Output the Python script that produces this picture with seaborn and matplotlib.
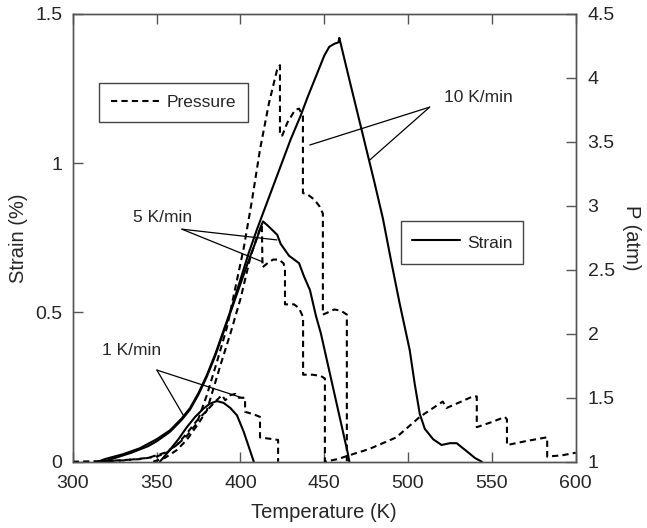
import matplotlib
matplotlib.use("Agg")
import pandas as pd
import seaborn as sns
import matplotlib.pyplot as plt

sns.set_style("ticks")
plt.rcParams['font.family'] = ['Liberation Sans', 'DejaVu Sans']
plt.rcParams['font.size'] = 14

# strain curves (%), one per heating rate
t_s1 = [352, 358, 363, 368, 373, 378, 382, 386, 390, 394, 398, 402, 405, 408]
s_1 = [0.0, 0.04, 0.075, 0.115, 0.15, 0.178, 0.195, 0.203, 0.197, 0.18, 0.155, 0.10, 0.05, 0.0]

t_s5 = [318, 325, 335, 345, 350, 358, 365, 370, 375, 380, 385, 390, 395, 400,
        405, 410, 412, 413.5, 416.5, 422, 424, 429, 435, 438, 441.5, 445, 448,
        452, 456, 460, 464, 465]
s_5 = [0.0, 0.012, 0.03, 0.052, 0.068, 0.10, 0.14, 0.175, 0.225, 0.285, 0.355,
       0.435, 0.515, 0.595, 0.675, 0.75, 0.785, 0.805, 0.79, 0.76, 0.73, 0.69,
       0.665, 0.62, 0.575, 0.49, 0.43, 0.33, 0.23, 0.13, 0.03, 0.0]

t_s10 = [315, 320, 330, 340, 350, 358, 365, 370, 375, 380, 385, 390, 395, 400,
         405, 410, 420, 430, 436, 440, 445, 450, 453, 456, 458.5, 459, 465, 470,
         475, 480, 485, 490, 495, 501, 504, 507, 510, 515, 520, 525, 529, 535,
         540, 544]
s_10 = [0.0, 0.01, 0.025, 0.045, 0.075, 0.105, 0.145, 0.18, 0.23, 0.29, 0.36,
        0.44, 0.52, 0.61, 0.70, 0.78, 0.93, 1.08, 1.16, 1.22, 1.29, 1.36, 1.39,
        1.40, 1.405, 1.42, 1.28, 1.165, 1.05, 0.935, 0.815, 0.67, 0.53, 0.374,
        0.26, 0.16, 0.11, 0.075, 0.056, 0.062, 0.062, 0.035, 0.012, 0.0]

# pressure curves (atm), stepwise venting
t_p1 = [300, 320, 340, 350, 356, 362, 368, 374, 380, 385, 389, 391, 394, 397,
        399, 402.8, 402.8, 408, 411.7, 411.7, 422.5, 422.5]
p_1 = [1.0, 1.005, 1.02, 1.04, 1.07, 1.13, 1.22, 1.32, 1.40, 1.47, 1.52, 1.48,
       1.52, 1.53, 1.50, 1.50, 1.39, 1.37, 1.35, 1.19, 1.17, 1.0]

t_p5 = [348, 355, 362, 368, 374, 380, 388, 394, 400, 406, 410, 412.8, 413.2,
        416, 419.5, 423, 425.8, 426.6, 426.6, 432, 435, 437.4, 437.4, 443, 448,
        450.4, 450.4, 458, 465, 477, 493, 507, 520.7, 523, 530, 538.6, 541, 541,
        550, 557.8, 559, 559, 570, 582.6, 583, 583, 592, 600]
p_5 = [1.0, 1.03, 1.09, 1.17, 1.28, 1.40, 1.75, 2.0, 2.27, 2.6, 2.76, 2.85,
       2.52, 2.55, 2.58, 2.58, 2.55, 2.5, 2.23, 2.23, 2.2, 2.13, 1.68, 1.68,
       1.67, 1.65, 1.0, 1.02, 1.05, 1.10, 1.19, 1.35, 1.47, 1.42, 1.46, 1.51,
       1.51, 1.27, 1.31, 1.35, 1.33, 1.13, 1.16, 1.19, 1.19, 1.04, 1.05, 1.07]

t_p10 = [315, 330, 345, 355, 362, 368, 374, 380, 386, 392, 397, 402, 407,
         411.7, 417, 421.8, 423.6, 423.6, 425, 428, 432.6, 435, 437.3, 437.3,
         440, 444, 447, 449.2, 449.2, 451, 456, 460, 463.5, 463.5]
p_10 = [1.0, 1.01, 1.03, 1.07, 1.13, 1.2, 1.3, 1.52, 1.78, 2.05, 2.36, 2.67,
        3.05, 3.44, 3.8, 4.06, 4.1, 3.55, 3.55, 3.65, 3.75, 3.76, 3.7, 3.1,
        3.09, 3.05, 3.0, 2.94, 2.15, 2.16, 2.19, 2.18, 2.15, 1.0]

x_ticks = [300, 350, 400, 450, 500, 550, 600]
strain_ticks = [0, 0.5, 1, 1.5]
strain_labels = ['0', '0.5', '1', '1.5']
p_ticks = [1, 1.5, 2, 2.5, 3, 3.5, 4, 4.5]
p_labels = ['1', '1.5', '2', '2.5', '3', '3.5', '4', '4.5']

spine_col = '#555555'

fig = plt.figure(figsize=(6.47, 5.28), dpi=100)
ax = fig.add_axes([0.1124, 0.1256, 0.7774, 0.8479])
ax2 = ax.twinx()

for t, s in [(t_s1, s_1), (t_s5, s_5), (t_s10, s_10)]:
    sns.lineplot(x=t, y=s, ax=ax, color='black', lw=1.5, sort=False,
                 estimator=None)
for t, p in [(t_p1, p_1), (t_p5, p_5), (t_p10, p_10)]:
    sns.lineplot(x=t, y=p, ax=ax2, color='black', lw=1.5, sort=False,
                 estimator=None, dashes=False, linestyle=(0, (3, 2)))

ax.set_xlim(300, 600)
ax.set_ylim(0, 1.5)
ax2.set_ylim(1, 4.5)
ax.set_xticks(x_ticks)
ax.set_xticklabels([str(v) for v in x_ticks])
ax.set_yticks(strain_ticks)
ax.set_yticklabels(strain_labels)
ax2.set_yticks(p_ticks)
ax2.set_yticklabels(p_labels)

ax.set_xlabel('Temperature (K)', fontsize=14.5, labelpad=8)
ax.set_ylabel('Strain (%)', fontsize=14.5, labelpad=5)
ax2.set_ylabel('P (atm)', fontsize=14.5, rotation=270, labelpad=19)

ax.tick_params(axis='x', direction='in', top=True, length=7, width=1,
               color=spine_col, pad=9.5)
ax.tick_params(axis='y', direction='in', right=False, length=7, width=1,
               color=spine_col, pad=7.5)
ax2.tick_params(axis='y', direction='in', length=7, width=1,
                color=spine_col, pad=8.5)
for a in (ax, ax2):
    for sp in a.spines.values():
        sp.set_visible(True)
        sp.set_color(spine_col)
        sp.set_linewidth(1.0)

# rate annotations (strain coordinates)
line_kw = dict(arrowstyle='-', lw=0.9, color='black', shrinkA=0, shrinkB=0)
notes = [
    ('10 K/min', (542, 1.22), (512.9, 1.188), [(441.4, 1.061), (477.2, 1.011)]),
    ('5 K/min', (353.8, 0.818), (365.1, 0.779), [(421.8, 0.743), (413.5, 0.669)]),
    ('1 K/min', (335, 0.371), (350.2, 0.307), [(401.6, 0.213), (366, 0.155)]),
]
for label, pos, hub, ends in notes:
    ax.text(pos[0], pos[1], label, ha='center', va='center', fontsize=12.5)
    for e in ends:
        ax.annotate('', xy=e, xytext=hub, arrowprops=line_kw)

# two separate legend boxes
p_handle = ax2.get_lines()[0]
s_handle = ax.get_lines()[0]
leg1 = ax2.legend([p_handle], ['Pressure'], loc='upper left',
                  bbox_to_anchor=(0.052, 0.846), borderaxespad=0,
                  fancybox=False, framealpha=1, edgecolor='#444444',
                  fontsize=12.5, handlelength=2.9, handletextpad=0.3,
                  borderpad=0.68)
leg1.get_frame().set_linewidth(1.0)
ax2.add_artist(leg1)
leg2 = ax2.legend([s_handle], ['Strain'], loc='upper left',
                  bbox_to_anchor=(0.653, 0.538), borderaxespad=0,
                  fancybox=False, framealpha=1, edgecolor='#444444',
                  fontsize=12.5, handlelength=2.8, handletextpad=0.4,
                  borderpad=0.6, handleheight=1.6)
leg2.get_frame().set_linewidth(1.0)

fig.savefig('out.png', dpi=100)
